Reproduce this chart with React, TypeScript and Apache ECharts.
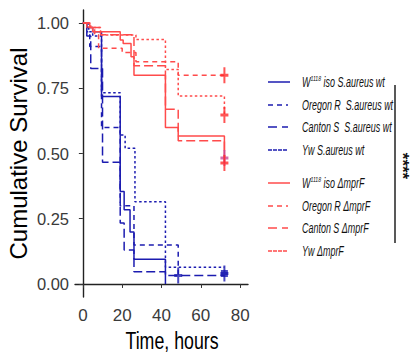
import React, { useEffect, useRef } from "react";
import * as echarts from "echarts";

// ---- data ----
const timeTicks = [0, 20, 40, 60, 80];
const survTicks = [0, 0.25, 0.5, 0.75, 1];

// S. aureus wt (blue)
const wtW1118T = [0, 2, 5, 9.5, 19, 21, 24, 26, 42];
const wtW1118S = [1, 0.983, 0.967, 0.718, 0.354, 0.284, 0.199, 0.095, 0];
const wtOregonT = [0, 2, 3.5, 9.5, 19, 26, 48.5];
const wtOregonS = [1, 0.967, 0.91, 0.6, 0.3, 0.149, 0.032];
const wtCantonT = [0, 2, 4, 10, 19, 21, 26, 42, 72];
const wtCantonS = [1, 0.95, 0.826, 0.466, 0.234, 0.13, 0.047, 0.032, 0.032];
const wtYwT = [0, 3, 5, 9.5, 19, 21.5, 26.5, 42, 72];
const wtYwS = [1, 0.967, 0.95, 0.733, 0.571, 0.52, 0.315, 0.064, 0.064];

// ΔmprF (red)
const mW1118T = [0, 3.5, 5, 19, 20.5, 24.5, 26, 42, 48.5, 72];
const mW1118S = [1, 0.983, 0.967, 0.935, 0.922, 0.871, 0.8, 0.6, 0.567, 0.483];
const mOregonT = [0, 3, 6, 8, 20, 27, 48.5, 72];
const mOregonS = [1, 0.983, 0.955, 0.903, 0.887, 0.852, 0.8, 0.8];
const mCantonT = [0, 2, 9, 26, 42, 48.5, 72];
const mCantonS = [1, 0.983, 0.955, 0.836, 0.67, 0.549, 0.464];
const mYwT = [0, 4, 9, 27, 42, 48.5, 72];
const mYwS = [1, 0.983, 0.954, 0.937, 0.822, 0.72, 0.648];

// censor marks
const censorRedT = [72, 72, 72, 72];
const censorRedS = [0.8, 0.648, 0.483, 0.464];
const censorBlueT = [48.5, 72];
const censorBlueS = [0.032, 0.04];

const BLUE = "#1c1cb0";
const RED = "#ff4b4b";

const legendNames = [
  "W1118 iso S.aureus wt",
  "Oregon R  S.aureus wt",
  "Canton S  S.aureus wt",
  "Yw S.aureus wt",
  "W1118 iso ΔmprF",
  "Oregon R ΔmprF",
  "Canton S ΔmprF",
  "Yw ΔmprF",
];

const xTitle = "Time, hours";
const yTitle = "Cumulative Survival";

const DASH_SOLID: any = "solid";
const DASH_OREGON = [5, 4];
const DASH_CANTON = [9, 4];
const DASH_YW = [2.5, 2.5];

const PLUS = "path://M3,0H5V6.5H8V9.5H5V16H3V9.5H0V6.5H3Z";

function zip(t: number[], s: number[]) {
  return t.map((x, i) => [x, s[i]]);
}

export default function App() {
  const ref = useRef<HTMLDivElement>(null);
  useEffect(() => {
    if (!ref.current) return;
    const chart = echarts.init(ref.current, undefined, { renderer: "svg" });

    const lineSeries = (name: string, t: number[], s: number[], color: string, type: any) => ({
      name,
      type: "line",
      step: "end",
      data: zip(t, s),
      showSymbol: false,
      symbol: "none",
      lineStyle: { color, width: 1.5, type },
      z: 2,
    });

    const legendY = [82, 105, 127, 150, 183, 206, 228, 251];
    const legendColors = [BLUE, BLUE, BLUE, BLUE, RED, RED, RED, RED];
    const legendDash: any[] = [null, DASH_OREGON, [9, 5, 3, 0], [4, 1], null, DASH_OREGON, [9, 5, 3, 0], [4, 1]];
    const legendLen = [22, 20, 20, 19, 22, 20, 20, 19];

    const richFor = (name: string) => {
      if (name.startsWith("W1118")) {
        return "{i|W}{s|1118}{i|" + name.slice(5) + "}";
      }
      return "{i|" + name + "}";
    };

    const graphics: any[] = [];
    legendNames.forEach((nm, i) => {
      graphics.push({
        type: "line",
        shape: { x1: 268, y1: legendY[i], x2: 268 + legendLen[i], y2: legendY[i] },
        style: { stroke: legendColors[i], lineWidth: 1.5, lineDash: legendDash[i] || null },
      });
      graphics.push({
        type: "text",
        x: 302,
        y: legendY[i],
        scaleX: 0.64,
        style: {
          text: richFor(nm),
          verticalAlign: "middle",
          align: "left",
          rich: {
            i: {
              fontFamily: "Liberation Sans",
              fontStyle: "italic",
              fontSize: 14,
              fill: "#111",
              lineHeight: 16,
            },
            s: {
              fontFamily: "Liberation Sans",
              fontStyle: "italic",
              fontSize: 8,
              fill: "#111",
              verticalAlign: "top",
              lineHeight: 16,
            },
          },
        },
      });
    });
    graphics.push({
      type: "line",
      shape: { x1: 395, y1: 85, x2: 395, y2: 243 },
      style: { stroke: "#222", lineWidth: 1.5 },
    });
    graphics.push({
      type: "text",
      x: 402,
      y: 166,
      rotation: -Math.PI / 2,
      style: {
        text: "****",
        fontFamily: "Liberation Sans",
        fontSize: 17,
        fontWeight: "bold",
        fill: "#111",
        align: "center",
        verticalAlign: "middle",
      },
    });
    graphics.push({
      type: "text",
      x: 172,
      y: 340,
      scaleX: 0.74,
      style: {
        text: xTitle,
        fontFamily: "Liberation Sans",
        fontSize: 24,
        fill: "#000",
        align: "center",
        verticalAlign: "middle",
      },
    });

    chart.setOption({
      animation: false,
      backgroundColor: "#fff",
      grid: { left: 75, right: 163, top: 10, bottom: 57, outerBoundsMode: "none" },
      xAxis: {
        type: "value",
        min: -4,
        max: 84,
        axisLine: { show: true, lineStyle: { color: "#222", width: 1.4 } },
        axisTick: { show: true, length: 4, customValues: timeTicks, lineStyle: { color: "#333" } },
        axisLabel: {
          customValues: timeTicks,
          fontFamily: "Liberation Sans",
          fontSize: 17,
          color: "#3a3a3a",
          margin: 10,
        },
        splitLine: { show: false },
      },
      yAxis: {
        type: "value",
        min: -0.05,
        max: 1.05,
        name: yTitle,
        nameLocation: "middle",
        nameRotate: 90,
        nameGap: 45,
        nameTextStyle: { fontFamily: "Liberation Sans", fontSize: 24, color: "#000" },
        axisLine: { show: true, lineStyle: { color: "#222", width: 1.4 } },
        axisTick: { show: true, length: 4, customValues: survTicks, lineStyle: { color: "#333" } },
        axisLabel: {
          customValues: survTicks,
          formatter: (v: number) => v.toFixed(2),
          fontFamily: "Liberation Sans",
          fontSize: 16.5,
          color: "#3a3a3a",
          margin: 6,
        },
        splitLine: { show: false },
      },
      series: [
        lineSeries(legendNames[0], wtW1118T, wtW1118S, BLUE, DASH_SOLID),
        lineSeries(legendNames[1], wtOregonT, wtOregonS, BLUE, DASH_OREGON),
        lineSeries(legendNames[2], wtCantonT, wtCantonS, BLUE, DASH_CANTON),
        lineSeries(legendNames[3], wtYwT, wtYwS, BLUE, DASH_YW),
        lineSeries(legendNames[4], mW1118T, mW1118S, RED, DASH_SOLID),
        lineSeries(legendNames[5], mOregonT, mOregonS, RED, DASH_OREGON),
        lineSeries(legendNames[6], mCantonT, mCantonS, RED, DASH_CANTON),
        lineSeries(legendNames[7], mYwT, mYwS, RED, DASH_YW),
        {
          name: "censor-red",
          type: "scatter",
          symbol: PLUS,
          symbolSize: [8, 16],
          data: zip(censorRedT, censorRedS).map((d, i) => ({
            value: d,
            itemStyle: { color: i === 2 ? "#c9479c" : "#ff2a2a" },
          })),
          z: 3,
        },
        {
          name: "censor-blue",
          type: "scatter",
          symbol: PLUS,
          symbolSize: [8, 16],
          itemStyle: { color: BLUE },
          data: zip(censorBlueT, censorBlueS),
          z: 3,
        },
        {
          name: "censor-blue-box",
          type: "scatter",
          symbol: "rect",
          symbolSize: 7,
          itemStyle: { color: BLUE },
          data: zip(censorBlueT.slice(1), censorBlueS.slice(1)),
          z: 3,
        },
      ],
      graphic: graphics,
    });
    return () => chart.dispose();
  }, []);
  return <div ref={ref} style={{ width: 411, height: 354, position: "absolute", left: 0, top: 0 }} />;
}
